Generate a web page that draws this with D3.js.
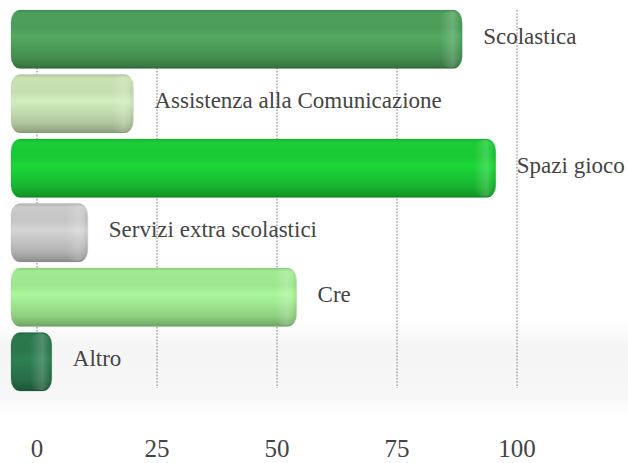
<!DOCTYPE html>
<html><head><meta charset="utf-8">
<script src="https://cdn.jsdelivr.net/npm/d3@7/dist/d3.min.js"></script>
<style>html,body{margin:0;padding:0;background:#fff;}svg{display:block;}</style>
</head><body>
<script>
const categories = ["Scolastica","Assistenza alla Comunicazione","Spazi gioco","Servizi extra scolastici","Cre","Altro"];
const values = [94, 25.5, 101, 16, 59.5, 8.5];
const colors = ["#4c9d59","#c4deb0","#1ac834","#c6c6c6","#9ee78f","#2b774c"];
const tickValues = [0, 25, 50, 75, 100];

const FONT = "Liberation Serif, Times New Roman, DejaVu Serif, serif";
const W = 628, H = 463;
const svg = d3.select("body").append("svg").attr("width", W).attr("height", H);
const defs = svg.append("defs");

// floor shading
const fg = defs.append("linearGradient").attr("id","floor").attr("x1",0).attr("y1",0).attr("x2",0).attr("y2",1);
fg.append("stop").attr("offset",0).attr("stop-color","#f4f4f4").attr("stop-opacity",0);
fg.append("stop").attr("offset",0.3).attr("stop-color","#f5f5f5").attr("stop-opacity",1);
fg.append("stop").attr("offset",0.8).attr("stop-color","#f7f7f7").attr("stop-opacity",1);
fg.append("stop").attr("offset",1).attr("stop-color","#fafafa").attr("stop-opacity",0);
svg.append("rect").attr("x",0).attr("y",318).attr("width",W).attr("height",100).attr("fill","url(#floor)");

const x = d3.scaleLinear().domain([0,100]).range([37,517]);
const y = d3.scaleBand().domain(categories).range([10,391]).paddingInner(0.094).paddingOuter(0);
const depth = 26; // perspective shift of bars in front of the back wall

// gridlines
svg.append("g").selectAll("line").data(tickValues).join("line")
  .attr("x1", d => x(d)).attr("x2", d => x(d))
  .attr("y1", 10).attr("y2", 388)
  .attr("stroke","#a8a8a8").attr("stroke-width",1.6).attr("stroke-dasharray","1.6,1.6");

// tick labels
svg.append("g").selectAll("text").data(tickValues).join("text")
  .attr("x", d => x(d)).attr("y", 457)
  .attr("text-anchor","middle")
  .attr("font-family", FONT)
  .attr("font-size",25).attr("fill","#444")
  .text(d => d);

// gradients per bar
categories.forEach((c,i) => {
  const base = d3.color(colors[i]);
  const g = defs.append("linearGradient").attr("id","g"+i).attr("x1",0).attr("y1",0).attr("x2",0).attr("y2",1);
  const stops = [
    [0, base.darker(0.3)],
    [0.06, base.brighter(0.05)],
    [0.3, base],
    [0.45, base.brighter(0.2)],
    [0.62, base],
    [0.82, base.darker(0.3)],
    [0.95, base.darker(0.75)],
    [1, base.darker(1.1)]
  ];
  stops.forEach(s => g.append("stop").attr("offset",s[0]).attr("stop-color",s[1].formatHex()));
});
// end-cap highlight gradient
const hg = defs.append("linearGradient").attr("id","cap").attr("x1",0).attr("y1",0).attr("x2",1).attr("y2",0);
hg.append("stop").attr("offset",0).attr("stop-color","#fff").attr("stop-opacity",0);
hg.append("stop").attr("offset",0.6).attr("stop-color","#fff").attr("stop-opacity",0.18);
hg.append("stop").attr("offset",0.85).attr("stop-color","#fff").attr("stop-opacity",0.05);
hg.append("stop").attr("offset",1).attr("stop-color","#000").attr("stop-opacity",0.06);

const bars = svg.append("g").selectAll("g").data(categories).join("g");
bars.each(function(c,i){
  const g = d3.select(this);
  const x0 = x(0) - depth, x1 = x(values[i]) - depth;
  const y0 = y(c), h = y.bandwidth();
  const rx = Math.min(9, (x1-x0)/3);
  g.append("rect").attr("x",x0).attr("y",y0).attr("width",x1-x0).attr("height",h)
    .attr("rx",rx).attr("ry",12).attr("fill","url(#g"+i+")")
    .attr("stroke", d3.color(colors[i]).darker(0.6).formatHex()).attr("stroke-opacity",0.2);
  const cw = Math.min(22, (x1-x0)*0.6);
  g.append("rect").attr("x",x1-cw).attr("y",y0+1).attr("width",cw-1).attr("height",h-2)
    .attr("rx",rx).attr("ry",12).attr("fill","url(#cap)");
});

// category labels
svg.append("g").selectAll("text").data(categories).join("text")
  .attr("x", (d,i) => x(values[i]) - depth + 21)
  .attr("y", d => y(d) + y.bandwidth()/2 - 3)
  .attr("dominant-baseline","central")
  .attr("font-family", FONT)
  .attr("font-size",23).attr("fill","#444")
  .text(d => d);
</script>
</body></html>
